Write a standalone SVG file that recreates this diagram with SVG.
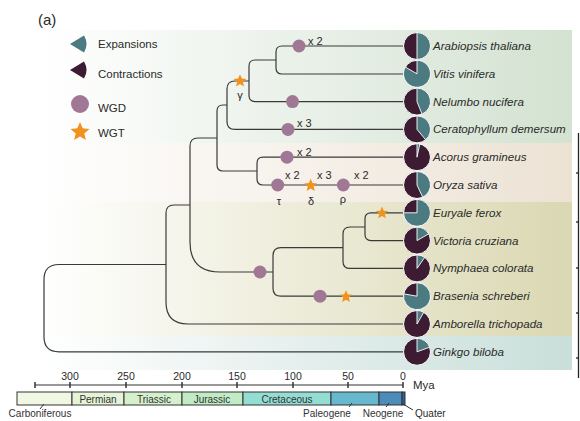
<svg xmlns="http://www.w3.org/2000/svg" xmlns:xlink="http://www.w3.org/1999/xlink" width="580" height="421" viewBox="0 0 580 421">
<defs>
<linearGradient id="gGreen" x1="40" y1="0" x2="572" y2="0" gradientUnits="userSpaceOnUse"><stop offset="0" stop-color="#d3e2d1" stop-opacity="0"/><stop offset="1" stop-color="#d3e2d1"/></linearGradient>
<linearGradient id="gBeige" x1="40" y1="0" x2="572" y2="0" gradientUnits="userSpaceOnUse"><stop offset="0" stop-color="#ece2d4" stop-opacity="0"/><stop offset="1" stop-color="#ece2d4"/></linearGradient>
<linearGradient id="gKhaki" x1="40" y1="0" x2="572" y2="0" gradientUnits="userSpaceOnUse"><stop offset="0" stop-color="#dad8b2" stop-opacity="0"/><stop offset="1" stop-color="#dad8b2"/></linearGradient>
<linearGradient id="gTeal" x1="40" y1="0" x2="572" y2="0" gradientUnits="userSpaceOnUse"><stop offset="0" stop-color="#c9dfda" stop-opacity="0"/><stop offset="1" stop-color="#c9dfda"/></linearGradient>
<polygon id="star" points="0,-1 0.2645,-0.364 0.951,-0.309 0.428,0.139 0.588,0.809 0,0.45 -0.588,0.809 -0.428,0.139 -0.951,-0.309 -0.2645,-0.364" fill="#f0921e"/>
</defs>
<style>
.br{fill:none;stroke:#3a3a3a;stroke-width:1.2}
.wgd{fill:#a07896}
.dk{fill:#3d1c33;stroke:#fff;stroke-width:1}
.tl{fill:#4b7b80;stroke:#fff;stroke-width:0.9}
.tx{font-family:"Liberation Sans",Arial,sans-serif;fill:#2a2a2a}
.sp{font-family:"Liberation Sans",Arial,sans-serif;font-style:italic;font-size:11.6px;fill:#2a2a2a}
.ev{font-family:"Liberation Sans",Arial,sans-serif;font-size:11px;fill:#2a2a2a}
.ax{fill:none;stroke:#333;stroke-width:1.2}
.per{stroke:#333;stroke-width:1}
.pl{font-family:"Liberation Sans",Arial,sans-serif;font-size:10px;fill:#333;text-anchor:middle}
</style>
<g id="bands">
<rect x="40" y="30" width="532" height="113" fill="url(#gGreen)"/>
<rect x="40" y="143" width="532" height="59" fill="url(#gBeige)"/>
<rect x="40" y="202" width="532" height="134" fill="url(#gKhaki)"/>
<rect x="40" y="336" width="532" height="34" fill="url(#gTeal)"/>
</g>
<g id="sidepanel" stroke="#222" stroke-width="1.3">
<line x1="578.5" y1="133" x2="578.5" y2="378"/>
<line x1="576" y1="173" x2="579" y2="173"/>
<line x1="576" y1="222" x2="579" y2="222"/>
<line x1="576" y1="268" x2="579" y2="268"/>
<line x1="576" y1="313" x2="579" y2="313"/>
<line x1="576" y1="358" x2="579" y2="358"/>
</g>
<text class="tx" x="38" y="25" font-size="15">(a)</text>
<g id="legend">
<path d="M70 44 L84 35.5 A16.5 16.5 0 0 1 84 52.5 Z" fill="#4b7b80"/>
<text class="tx" x="98" y="47.5" font-size="11.5">Expansions</text>
<path d="M70 70 L84 61.5 A16.5 16.5 0 0 1 84 78.5 Z" fill="#3d1c33"/>
<text class="tx" x="98" y="78" font-size="11.5">Contractions</text>
<circle cx="80" cy="104" r="9" class="wgd"/>
<text class="tx" x="98" y="112" font-size="11.5">WGD</text>
<use xlink:href="#star" transform="translate(80,132) scale(10)"/>
<text class="tx" x="98" y="137" font-size="11.5">WGT</text>
</g>
<g id="connectors">
<path class="br" d="M403 46 H282 Q276 46 276 52 V68 Q276 74 282 74 H403"/>
<path class="br" d="M276 60 H255 Q249 60 249 66 V95.6 Q249 101.6 255 101.6 H403"/>
<path class="br" d="M249 81 H235 Q227 81 227 89 V121.4 Q227 129.4 235 129.4 H403"/>
<path class="br" d="M227 105 H223 Q217 105 217 111 V165 Q217 171 223 171 H257"/>
<path class="br" d="M403 157.2 H263 Q257 157.2 257 163.2 V179 Q257 185 263 185 H403"/>
<path class="br" d="M217 138 H198 Q190 138 190 146 V242 Q190 272 220 272 H273"/>
<path class="br" d="M343 247.6 H281 Q273 247.6 273 255.6 V288.2 Q273 296.2 281 296.2 H403"/>
<path class="br" d="M365 227 H350 Q343 227 343 234 V261.4 Q343 268.4 350 268.4 H403"/>
<path class="br" d="M403 212.8 H371 Q365 212.8 365 218.8 V234.6 Q365 240.6 371 240.6 H403"/>
<path class="br" d="M190 205 H174 Q166 205 166 213 V302 Q166 324 188 324 H403"/>
<path class="br" d="M166 264.5 H59 Q44 264.5 44 279.5 V336.8 Q44 351.8 59 351.8 H403"/>
</g>
<g id="events">
<circle cx="299" cy="46" r="6.5" class="wgd"/><text class="ev" x="308" y="45">x 2</text>
<circle cx="292.5" cy="101.6" r="6.5" class="wgd"/>
<circle cx="288" cy="129.4" r="6.5" class="wgd"/><text class="ev" x="297" y="127">x 3</text>
<circle cx="287" cy="157.2" r="6.5" class="wgd"/><text class="ev" x="297" y="156">x 2</text>
<use xlink:href="#star" transform="translate(240,81) scale(6.8)"/>
<text class="ev" x="240" y="99" text-anchor="middle">γ</text>
<circle cx="277.7" cy="185" r="6.5" class="wgd"/><text class="ev" x="285" y="179">x 2</text>
<use xlink:href="#star" transform="translate(310.7,185.5) scale(6.8)"/><text class="ev" x="317" y="179">x 3</text>
<circle cx="343.3" cy="185" r="6.5" class="wgd"/><text class="ev" x="354" y="179">x 2</text>
<text class="ev" x="279" y="205" text-anchor="middle">τ</text>
<text class="ev" x="311" y="205" text-anchor="middle">δ</text>
<text class="ev" x="343" y="203" text-anchor="middle">ρ</text>
<use xlink:href="#star" transform="translate(382,213) scale(6.5)"/>
<circle cx="260" cy="272" r="6.5" class="wgd"/>
<circle cx="320" cy="296.2" r="6.5" class="wgd"/>
<use xlink:href="#star" transform="translate(346,296.7) scale(6.5)"/>
</g>
<g id="n-arabiopsis" transform="translate(417,46)"><circle r="13.5" class="dk"/><path class="tl" d="M0 0 V-13.5 A13.5 13.5 0 0 1 0 13.5 Z"/><text class="sp" x="16" y="4">Arabiopsis thaliana</text></g>
<g id="n-vitis" transform="translate(417,73.8)"><circle r="13.5" class="dk"/><path class="tl" d="M0 0 V-13.5 A13.5 13.5 0 1 1 -11.69 -6.75 Z"/><text class="sp" x="16" y="4">Vitis vinifera</text></g>
<g id="n-nelumbo" transform="translate(417,101.6)"><circle r="13.5" class="dk"/><path class="tl" d="M0 0 V-13.5 A13.5 13.5 0 0 1 5.06 12.52 Z"/><text class="sp" x="16" y="4">Nelumbo nucifera</text></g>
<g id="n-ceratophyllum" transform="translate(417,129.4)"><circle r="13.5" class="dk"/><path class="tl" d="M0 0 V-13.5 A13.5 13.5 0 0 1 8.68 10.34 Z"/><text class="sp" x="16" y="4">Ceratophyllum demersum</text></g>
<g id="n-acorus" transform="translate(417,157.2)"><circle r="13.5" class="dk"/><path class="tl" d="M0 0 V-13.5 A13.5 13.5 0 0 1 2.81 -13.2 Z"/><text class="sp" x="16" y="4">Acorus gramineus</text></g>
<g id="n-oryza" transform="translate(417,185)"><circle r="13.5" class="dk"/><path class="tl" d="M0 0 V-13.5 A13.5 13.5 0 0 1 5.71 12.24 Z"/><text class="sp" x="16" y="4">Oryza sativa</text></g>
<g id="n-euryale" transform="translate(417,212.8)"><circle r="13.5" class="dk"/><path class="tl" d="M0 0 V-13.5 A13.5 13.5 0 1 1 -13.5 0 Z"/><text class="sp" x="16" y="4">Euryale ferox</text></g>
<g id="n-victoria" transform="translate(417,240.6)"><circle r="13.5" class="dk"/><path class="tl" d="M0 0 V-13.5 A13.5 13.5 0 0 1 11.69 -6.75 Z"/><text class="sp" x="16" y="4">Victoria cruziana</text></g>
<g id="n-nymphaea" transform="translate(417,268.4)"><circle r="13.5" class="dk"/><path class="tl" d="M0 0 V-13.5 A13.5 13.5 0 0 1 7.74 -11.06 Z"/><text class="sp" x="16" y="4">Nymphaea colorata</text></g>
<g id="n-brasenia" transform="translate(417,296.2)"><circle r="13.5" class="dk"/><path class="tl" d="M0 0 V-13.5 A13.5 13.5 0 1 1 -13.29 -2.34 Z"/><text class="sp" x="16" y="4">Brasenia schreberi</text></g>
<g id="n-amborella" transform="translate(417,324)"><circle r="13.5" class="dk"/><path class="tl" d="M0 0 V-13.5 A13.5 13.5 0 0 1 6.75 -11.69 Z"/><text class="sp" x="16" y="4">Amborella trichopada</text></g>
<g id="n-ginkgo" transform="translate(417,351.8)"><circle r="13.5" class="dk"/><path class="tl" d="M0 0 V-13.5 A13.5 13.5 0 0 1 12.69 -4.62 Z"/><text class="sp" x="16" y="4">Ginkgo biloba</text></g>
<g id="timescale">
<line class="ax" x1="35" y1="385" x2="403" y2="385"/>
<g stroke="#333" stroke-width="1.5">
<line x1="35" y1="382" x2="35" y2="388"/>
<line x1="70" y1="382" x2="70" y2="388"/>
<line x1="126" y1="382" x2="126" y2="388"/>
<line x1="182" y1="382" x2="182" y2="388"/>
<line x1="237" y1="382" x2="237" y2="388"/>
<line x1="293" y1="382" x2="293" y2="388"/>
<line x1="348" y1="382" x2="348" y2="388"/>
<line x1="403" y1="382" x2="403" y2="388"/>
</g>
<g class="tx" font-size="10.5" text-anchor="middle">
<text x="70" y="380">300</text><text x="126" y="380">250</text><text x="182" y="380">200</text><text x="237" y="380">150</text><text x="293" y="380">100</text><text x="348" y="380">50</text><text x="403" y="380">0</text>
</g>
<text class="tx" x="413" y="389" font-size="11.5">Mya</text>
<rect class="per" x="17" y="392" width="55" height="13" fill="#f0f8e4"/>
<rect class="per" x="72" y="392" width="52" height="13" fill="#e5f4d6"/>
<rect class="per" x="124" y="392" width="58" height="13" fill="#d4f0cc"/>
<rect class="per" x="182" y="392" width="61" height="13" fill="#c0ebc4"/>
<rect class="per" x="243" y="392" width="88" height="13" fill="#94ddd2"/>
<rect class="per" x="331" y="392" width="48" height="13" fill="#67b7cf"/>
<rect class="per" x="379" y="392" width="23" height="13" fill="#4b8cb8"/>
<rect class="per" x="402" y="392" width="3" height="13" fill="#2b5f9e"/>
<text class="pl" x="98" y="403">Permian</text>
<text class="pl" x="154" y="403">Triassic</text>
<text class="pl" x="212" y="403">Jurassic</text>
<text class="pl" x="287" y="403">Cretaceous</text>
<g stroke="#333" stroke-width="1">
<line x1="44" y1="404" x2="40" y2="409"/>
<line x1="352" y1="403" x2="349" y2="407"/>
<line x1="389" y1="403" x2="386" y2="407"/>
<line x1="403" y1="404" x2="413" y2="410"/>
</g>
<text class="pl" x="40" y="417">Carboniferous</text>
<text class="pl" x="327" y="417">Paleogene</text>
<text class="pl" x="383" y="417">Neogene</text>
<text class="tx" x="415" y="417" font-size="10">Quater</text>
</g>
</svg>
